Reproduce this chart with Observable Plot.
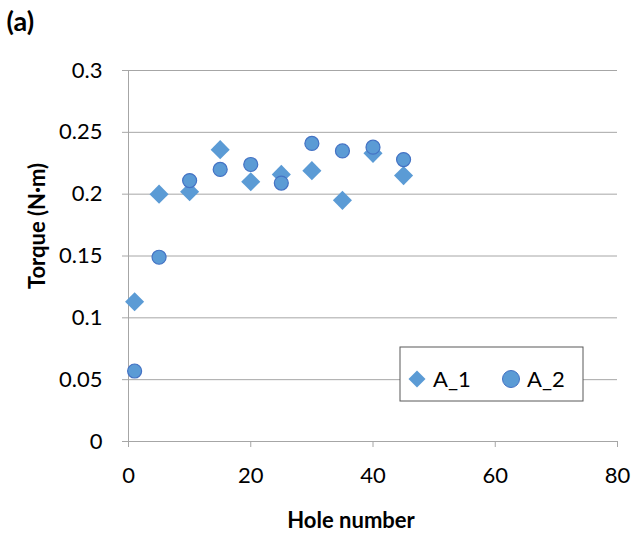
<!DOCTYPE html>
<html><head><meta charset="utf-8">
<script src="https://cdn.jsdelivr.net/npm/d3@7"></script>
<script src="https://cdn.jsdelivr.net/npm/@observablehq/plot@0.6"></script>
<style>body{margin:0;background:#fff} #chart{width:635px;height:537px}</style>
</head><body><div id="chart"></div>
<script>
const holes = [1, 5, 10, 15, 20, 25, 30, 35, 40, 45];
const a1 = [0.113, 0.200, 0.202, 0.236, 0.210, 0.216, 0.219, 0.195, 0.233, 0.215];
const a2 = [0.057, 0.149, 0.211, 0.220, 0.224, 0.209, 0.241, 0.235, 0.238, 0.228];
const seriesNames = ["A_1", "A_2"];
const xTicks = [0, 20, 40, 60, 80];
const yTicks = [0, 0.05, 0.1, 0.15, 0.2, 0.25, 0.3];
const yTickLabels = ["0", "0.05", "0.1", "0.15", "0.2", "0.25", "0.3"];
const xTitle = "Hole number";
const yTitle = "Torque (N·m)";
const panelLabel = "(a)";

const font = "Lato, 'Liberation Sans', sans-serif";
const fs = 22;
const fillC = "#5B9BD5", strokeC = "#4472C4", gridC = "#a6a6a6";
const d1 = holes.map((h, i) => ({hole: h, torque: a1[i]}));
const d2 = holes.map((h, i) => ({hole: h, torque: a2[i]}));

const chart = Plot.plot({
  width: 635, height: 537,
  marginLeft: 128, marginRight: 18, marginTop: 70, marginBottom: 96,
  style: {fontFamily: font, fontSize: fs + "px", color: "#000", background: "#fff"},
  x: {domain: [0, 80]},
  y: {domain: [0, 0.3]},
  marks: [
    Plot.gridY(yTicks, {stroke: gridC, strokeOpacity: 1}),
    Plot.ruleX([0], {stroke: gridC}),
    Plot.axisY({ticks: yTicks, tickFormat: (d, i) => yTickLabels[i], tickSize: 6, tickPadding: 20, stroke: gridC, fill: "#000", label: null, fontSize: fs}),
    Plot.axisX({ticks: xTicks, tickSize: 6, tickPadding: 20, stroke: gridC, fill: "#000", label: null, fontSize: fs}),
    Plot.dot(d1, {x: "hole", y: "torque", symbol: "diamond2", r: 8.6, fill: fillC, stroke: null}),
    Plot.dot(d2, {x: "hole", y: "torque", symbol: "circle", r: 7, fill: fillC, stroke: strokeC, strokeWidth: 1.2}),
    Plot.text([yTitle], {frameAnchor: "left", dx: -91, dy: -30, rotate: -90, fontWeight: "bold", fontSize: fs, fill: "#000", textAnchor: "middle", lineAnchor: "middle"}),
    Plot.text([xTitle], {frameAnchor: "bottom", dx: -22, dy: 79, fontWeight: "bold", fontSize: fs, fill: "#000", textAnchor: "middle", lineAnchor: "middle"}),
    Plot.text([panelLabel], {frameAnchor: "top-left", dx: -122, dy: -48, fontWeight: "bold", fontSize: 27, fill: "#000", textAnchor: "start", lineAnchor: "middle"})
  ]
});
document.getElementById("chart").appendChild(chart);

// Legend box
const svg = d3.select(chart);
const lg = svg.append("g").attr("transform", "translate(400,347)");
lg.append("rect").attr("width", 183).attr("height", 54).attr("fill", "#fff").attr("stroke", "#595959").attr("stroke-width", 1);
const entries = [
  {name: seriesNames[0], x: 17, shape: "diamond"},
  {name: seriesNames[1], x: 111, shape: "circle"}
];
entries.forEach(e => {
  if (e.shape === "diamond") {
    lg.append("path").attr("d", d3.symbol(d3.symbolDiamond2, 184)()).attr("transform", `translate(${e.x},32)`).attr("fill", fillC);
  } else {
    lg.append("circle").attr("cx", e.x).attr("cy", 32).attr("r", 8.5).attr("fill", fillC).attr("stroke", strokeC).attr("stroke-width", 1);
  }
  lg.append("text").attr("x", e.x + 16).attr("y", 32).attr("dy", "0.35em").attr("text-anchor", "start").attr("font-family", font).attr("font-size", fs).attr("fill", "#000").text(e.name);
});
</script>
</body></html>
